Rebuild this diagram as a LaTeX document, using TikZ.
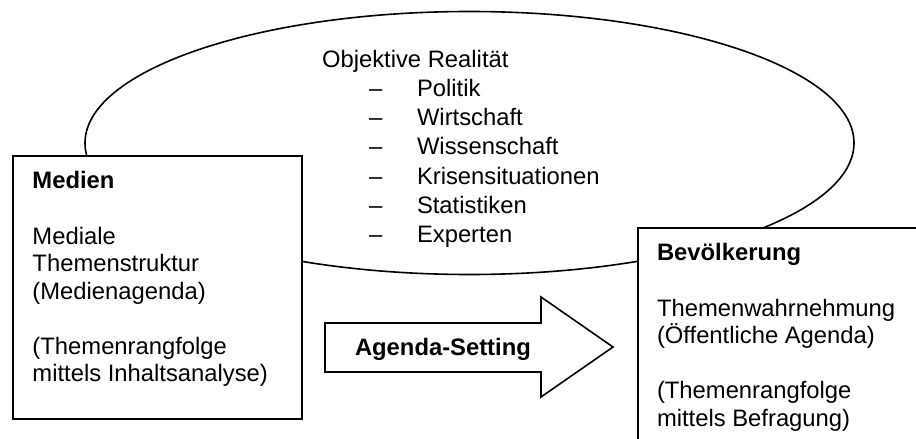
\documentclass[tikz,border=0pt]{standalone}
\usepackage{fontspec}
\setmainfont{Liberation Sans}
\usetikzlibrary{shapes.geometric}
\begin{document}
\begin{tikzpicture}[x=0.5pt,y=-0.5pt,
  txt/.style={anchor=base west, inner sep=0pt, outer sep=0pt, font=\fontsize{11.9pt}{13.7pt}\selectfont},
  btxt/.style={txt, font=\fontsize{11.9pt}{13.7pt}\selectfont\bfseries},
  box/.style={draw, line width=1pt, fill=white, anchor=north west, inner sep=0pt, outer sep=0pt},
  realshape/.style={ellipse, draw, line width=0.8pt, inner sep=0pt, outer sep=0pt},
  arrowshape/.style={draw, line width=0.8pt, fill=white, line join=miter}]
\clip (0,0) rectangle (916,439);
\fill[white] (0,0) rectangle (916,439);
% ellipse: objective reality
\node[realshape, minimum width=384.5pt, minimum height=131.5pt] (real) at (469.5,143) {};
% boxes
\node[box, minimum width=144.5pt, minimum height=131.5pt] (medien) at (13,156) {};
\node[box, minimum width=150pt, minimum height=115pt] (bev) at (638,228) {};
% agenda-setting arrow
\coordinate (a1) at (325,323);
\coordinate (a2) at (541,323);
\coordinate (a3) at (541,297);
\coordinate (a4) at (613,347);
\coordinate (a5) at (541,397);
\coordinate (a6) at (541,372);
\coordinate (a7) at (325,372);
\draw[arrowshape] (a1) -- (a2) -- (a3) -- (a4) -- (a5) -- (a6) -- (a7) -- cycle;
\node[btxt] (agenda) at (355,355) {Agenda-Setting};
% ellipse text
\node[txt] (rtitle) at (322,67) {Objektive Realität};
\foreach \i/\yy/\t in {1/96.3/Politik, 2/125.6/Wirtschaft, 3/154.9/Wissenschaft, 4/184.2/Krisensituationen, 5/213.5/Statistiken, 6/242.8/Experten}{
  \node[txt] (d\i) at (369,\yy) {–};
  \node[txt] (r\i) at (417,\yy) {\t};
}
% Medien text
\node[btxt] (m0) at (32.5,188) {Medien};
\node[txt] (m1) at (32.5,244) {Mediale};
\node[txt] (m2) at (32.5,271.5) {Themenstruktur};
\node[txt] (m3) at (32.5,299) {(Medienagenda)};
\node[txt] (m4) at (32.5,354) {(Themenrangfolge};
\node[txt] (m5) at (32.5,381.5) {mittels Inhaltsanalyse)};
% Bevoelkerung text
\node[btxt] (b0) at (657,260) {Bevölkerung};
\node[txt] (b1) at (657,316.5) {Themenwahrnehmung};
\node[txt] (b2) at (657,343.5) {(Öffentliche Agenda)};
\node[txt] (b3) at (657,398.5) {(Themenrangfolge};
\node[txt] (b4) at (657,426) {mittels Befragung)};
\end{tikzpicture}
\end{document}
